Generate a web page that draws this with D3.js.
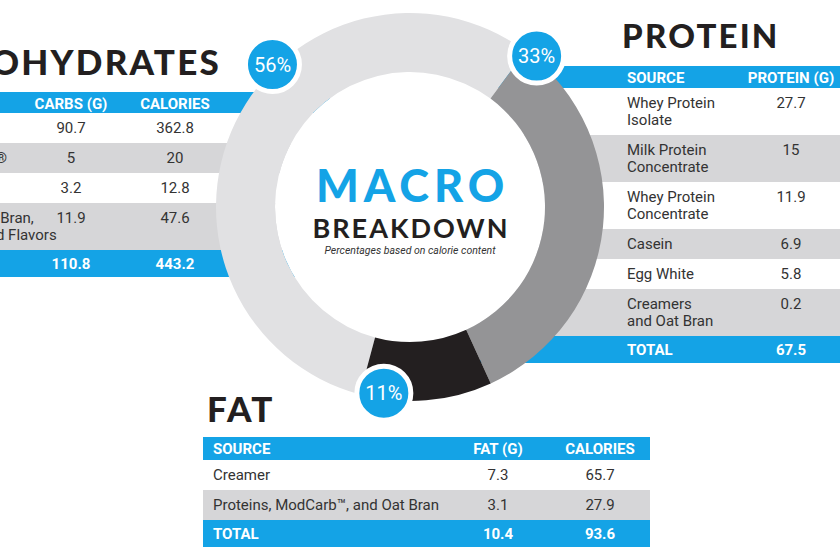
<!DOCTYPE html>
<html>
<head>
<meta charset="utf-8">
<script src="https://cdn.jsdelivr.net/npm/d3@7"></script>
<style>
  body { margin: 0; background: #fff; }
  svg { display: block; font-family: Roboto, 'Open Sans', sans-serif; }
</style>
</head>
<body>
<div id="chart"></div>
<script>
// macro split (percent of calories)
const macros = ['Carbohydrates', 'Protein', 'Fat']
const macroPct = [56, 33, 11]

// carbohydrate table
const carbHeaders = ['SOURCE', 'CARBS (G)', 'CALORIES']
const carbSources = [['ModCarb™'], ['Fiber Dextrin®'], ['Cocoa'], ['Proteins, Oat Bran,', 'Creamers and Flavors']]
const carbGrams = [90.7, 5, 3.2, 11.9]
const carbCalories = [362.8, 20, 12.8, 47.6]
const carbTotal = ['TOTAL', 110.8, 443.2]

// protein table
const proteinHeaders = ['SOURCE', 'PROTEIN (G)']
const proteinSources = [['Whey Protein', 'Isolate'], ['Milk Protein', 'Concentrate'], ['Whey Protein', 'Concentrate'], ['Casein'], ['Egg White'], ['Creamers', 'and Oat Bran']]
const proteinGrams = [27.7, 15, 11.9, 6.9, 5.8, 0.2]
const proteinTotal = ['TOTAL', 67.5]

// fat table
const fatHeaders = ['SOURCE', 'FAT (G)', 'CALORIES']
const fatSources = [['Creamer'], ['Proteins, ModCarb™,  and Oat Bran']]
const fatGrams = [7.3, 3.1]
const fatCalories = [65.7, 27.9]
const fatTotal = ['TOTAL', 10.4, 93.6]

const width = 840
const height = 560
const blue = '#14a3e6'
const dark = '#231f20'
const rowGrey = '#d6d6d8'
const ringColors = ['#e1e1e3', '#949496', '#231f20']

const svg = d3.select('#chart')
  .append('svg')
  .attr('width', width)
  .attr('height', height)

function fmt(v) {
  return typeof v === 'number' ? String(v) : v
}

// draws one table: blue header, alternating rows, blue total bar
function drawTable(opts) {
  const g = svg.append('g')
  const lineH = 17
  const rowH = lines => 13 + lineH * lines
  const heights = opts.rows.map(r => rowH(r[0].length))
  const tops = [0].concat(Array.from(d3.cumsum(heights)))
  const y0 = opts.top + opts.headerH

  g.append('rect')
    .attr('x', opts.x0).attr('y', opts.top)
    .attr('width', opts.x1 - opts.x0).attr('height', opts.headerH)
    .attr('fill', blue)

  g.selectAll('.head')
    .data(opts.headers)
    .enter()
    .append('text')
    .attr('x', (d, i) => opts.cols[i])
    .attr('y', opts.top + 17)
    .attr('text-anchor', (d, i) => i === 0 ? 'start' : 'middle')
    .attr('fill', '#fff')
    .attr('font-weight', 700)
    .attr('font-size', 15)
    .text(d => d)

  const rows = g.selectAll('.row')
    .data(opts.rows)
    .enter()
    .append('g')
    .attr('transform', (d, i) => `translate(0,${y0 + tops[i]})`)

  rows.append('rect')
    .attr('x', opts.x0)
    .attr('width', opts.x1 - opts.x0)
    .attr('height', (d, i) => heights[i])
    .attr('fill', (d, i) => i % 2 ? rowGrey : '#fff')

  rows.each(function(r) {
    const row = d3.select(this)
    r.forEach((cell, ci) => {
      const lines = Array.isArray(cell) ? cell : [fmt(cell)]
      row.selectAll(null)
        .data(lines)
        .enter()
        .append('text')
        .attr('x', opts.cols[ci])
        .attr('y', (d, li) => 20 + li * lineH)
        .attr('text-anchor', ci === 0 ? 'start' : 'middle')
        .attr('fill', '#333')
        .attr('font-size', 15)
        .text(d => d)
    })
  })

  const totalTop = y0 + tops[tops.length - 1]
  g.append('rect')
    .attr('x', opts.x0).attr('y', totalTop)
    .attr('width', opts.x1 - opts.x0).attr('height', 27)
    .attr('fill', blue)

  g.selectAll('.total')
    .data(opts.total)
    .enter()
    .append('text')
    .attr('x', (d, i) => opts.cols[i])
    .attr('y', totalTop + 19)
    .attr('text-anchor', (d, i) => i === 0 ? 'start' : 'middle')
    .attr('fill', '#fff')
    .attr('font-weight', 700)
    .attr('font-size', 15)
    .text(d => fmt(d))
}

// section titles
function title(txt, x, y, size, anchor) {
  svg.append('text')
    .attr('x', x).attr('y', y)
    .attr('text-anchor', anchor)
    .attr('fill', dark)
    .attr('font-family', 'Lato, Inter, sans-serif')
    .attr('font-weight', 900)
    .attr('font-size', size)
    .attr('letter-spacing', 2.2)
    .text(txt)
}

title('CARBOHYDRATES', 221, 75, 35, 'end')
title('PROTEIN', 622, 48, 33, 'start')
title('FAT', 207, 422, 35, 'start')

drawTable({
  x0: -200, x1: 330, top: 92, headerH: 21,
  cols: [-89, 71, 175],
  headers: carbHeaders,
  rows: carbSources.map((s, i) => [s, carbGrams[i], carbCalories[i]]),
  total: carbTotal
})

drawTable({
  x0: 480, x1: 860, top: 66, headerH: 22,
  cols: [627, 791],
  headers: proteinHeaders,
  rows: proteinSources.map((s, i) => [s, proteinGrams[i]]),
  total: proteinTotal
})

drawTable({
  x0: 203, x1: 650, top: 437, headerH: 23,
  cols: [213, 498, 600],
  headers: fatHeaders,
  rows: fatSources.map((s, i) => [s, fatGrams[i], fatCalories[i]]),
  total: fatTotal
})

// donut
const cx = 410
const cy = 207
const outerR = 194
const innerR = 135
const start = 195 * Math.PI / 180

const ring = svg.append('g').attr('transform', `translate(${cx},${cy})`)

ring.append('circle').attr('r', innerR).attr('fill', '#fff')

const pie = d3.pie().sort(null).value(d => d)
  .startAngle(start).endAngle(start + 2 * Math.PI)
const arc = d3.arc().innerRadius(innerR).outerRadius(outerR)

ring.selectAll('path')
  .data(pie(macroPct))
  .enter()
  .append('path')
  .attr('d', arc)
  .attr('fill', (d, i) => ringColors[i])

// percent badges
const badgeAngle = [-44, 40, 188]
const badgeR = [198, 197, 188]
const badges = ring.selectAll('.badge')
  .data(macroPct)
  .enter()
  .append('g')
  .attr('transform', (d, i) => {
    const a = badgeAngle[i] * Math.PI / 180
    return `translate(${Math.sin(a) * badgeR[i]},${-Math.cos(a) * badgeR[i]})`
  })

badges.append('circle')
  .attr('r', 27)
  .attr('fill', blue)
  .attr('stroke', '#fff')
  .attr('stroke-width', 5)

badges.append('text')
  .attr('text-anchor', 'middle')
  .attr('dy', 7)
  .attr('fill', '#fff')
  .attr('font-size', 20)
  .text(d => d + '%')

// centre label
ring.append('text')
  .attr('x', 2.5)
  .attr('y', -5)
  .attr('text-anchor', 'middle')
  .attr('fill', blue)
  .attr('font-family', 'Lato, Inter, sans-serif')
  .attr('font-weight', 900)
  .attr('font-size', 45)
  .attr('letter-spacing', 5)
  .text('MACRO')

ring.append('text')
  .attr('x', 1)
  .attr('y', 31)
  .attr('text-anchor', 'middle')
  .attr('fill', dark)
  .attr('font-family', 'Lato, Inter, sans-serif')
  .attr('font-weight', 700)
  .attr('font-size', 27)
  .attr('letter-spacing', 2)
  .text('BREAKDOWN')

ring.append('text')
  .attr('y', 47)
  .attr('text-anchor', 'middle')
  .attr('fill', '#333')
  .attr('font-style', 'italic')
  .attr('font-size', 10.5)
  .text('Percentages based on calorie content')
</script>
</body>
</html>
